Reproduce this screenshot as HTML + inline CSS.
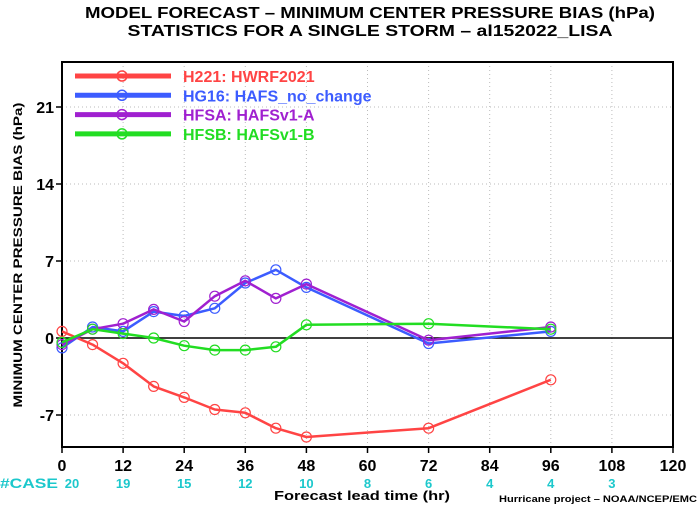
<!DOCTYPE html>
<html><head><meta charset="utf-8"><style>
body{margin:0;background:#fff}
svg text{font-family:"Liberation Sans",sans-serif;font-weight:bold}
</style></head><body>
<svg width="700" height="506" xmlns="http://www.w3.org/2000/svg">
<text x="370" y="18" text-anchor="middle" font-size="16" textLength="570" lengthAdjust="spacingAndGlyphs">MODEL FORECAST – MINIMUM CENTER PRESSURE BIAS (hPa)</text>
<text x="370" y="36" text-anchor="middle" font-size="16" textLength="485" lengthAdjust="spacingAndGlyphs">STATISTICS FOR A SINGLE STORM – al152022_LISA</text>
<g id="grid"></g>
<rect x="62" y="62" width="611" height="385" fill="none" stroke="#000" stroke-width="2"/>
<line x1="62" x2="673" y1="338" y2="338" stroke="#000" stroke-width="1.5"/>
<g id="axes"></g>
<g id="series"></g>
<g id="legend"></g>
<text transform="translate(22,255) rotate(-90)" text-anchor="middle" font-size="12" textLength="305" lengthAdjust="spacingAndGlyphs">MINIMUM CENTER PRESSURE BIAS (hPa)</text>
<text x="0" y="488" font-size="14" fill="#1cc8cc" textLength="58" lengthAdjust="spacingAndGlyphs">#CASE</text>
<text x="362" y="500" text-anchor="middle" font-size="13" textLength="176" lengthAdjust="spacingAndGlyphs">Forecast lead time (hr)</text>
<text x="697" y="502" text-anchor="end" font-size="9" font-weight="normal" textLength="198" lengthAdjust="spacingAndGlyphs">Hurricane project – NOAA/NCEP/EMC</text>
</svg>
<script>
const xTicks=[0,12,24,36,48,60,72,84,96,108,120];
const yTicks=[-7,0,7,14,21];
const caseHours=[0,12,24,36,48,60,72,84,96,108];
const caseCounts=[20,19,15,12,10,8,6,4,4,3];
const seriesNames=["H221: HWRF2021","HG16: HAFS_no_change","HFSA: HAFSv1-A","HFSB: HAFSv1-B"];
const seriesColors=["#ff4444","#3c5cff","#a020d0","#22dd22"];
const leads=[0,6,12,18,24,30,36,42,48,72,96];
const h221=[0.6,-0.6,-2.3,-4.4,-5.4,-6.5,-6.8,-8.2,-9.0,-8.2,-3.8];
const hg16=[-0.9,1.0,0.6,2.4,2.0,2.7,5.0,6.2,4.6,-0.5,0.6];
const hfsa=[-0.6,0.8,1.3,2.6,1.5,3.8,5.2,3.6,4.9,-0.2,1.0];
const hfsb=[-0.4,0.8,0.4,0.0,-0.7,-1.1,-1.1,-0.8,1.2,1.3,0.8];
const allSeries=[h221,hg16,hfsa,hfsb];
const NS="http://www.w3.org/2000/svg";
const X=h=>62+h*(611/120);
const Y=v=>338-v*11;
function mk(tag,attrs,parent){const e=document.createElementNS(NS,tag);for(const k in attrs)e.setAttribute(k,attrs[k]);parent.appendChild(e);return e;}
const grid=document.getElementById('grid'),axes=document.getElementById('axes'),ser=document.getElementById('series'),leg=document.getElementById('legend');
xTicks.forEach((t,i)=>{
  if(i>0&&i<xTicks.length-1){const g=mk('line',{x1:X(t),x2:X(t),y1:62,y2:447,stroke:'#bbb','stroke-dasharray':'1,3'},grid);
  
  }
  const tk=mk('line',{x1:X(t),x2:X(t),y1:447,y2:453,stroke:'#000','stroke-width':1.5},axes);
  
  
  const tx=mk('text',{x:X(t),y:471,'text-anchor':'middle','font-size':16},axes);tx.textContent=t;
  
  
});
yTicks.forEach(t=>{
  if(t!==0){const g=mk('line',{x1:62,x2:673,y1:Y(t),y2:Y(t),stroke:'#bbb','stroke-dasharray':'1,3'},grid);
  
  }
  const tk=mk('line',{x1:56,x2:62,y1:Y(t),y2:Y(t),stroke:'#000','stroke-width':1.5},axes);
  
  
  const tx=mk('text',{x:54,y:Y(t)+6,'text-anchor':'end','font-size':16},axes);tx.textContent=t;
  
  
});
caseHours.forEach((h,i)=>{
  const tx=mk('text',{x:i===0?X(h)+10:X(h),y:488,'text-anchor':'middle','font-size':13,fill:'#1cc8cc'},axes);tx.textContent=caseCounts[i];
  
  
});
allSeries.forEach((d,s)=>{
  const c=seriesColors[s];
  const pl=mk('polyline',{points:d.map((v,i)=>X(leads[i])+','+Y(v)).join(' '),fill:'none',stroke:c,'stroke-width':2.5,'stroke-linejoin':'round'},ser);
  
  
  d.forEach((v,i)=>{
    const ci=mk('circle',{cx:X(leads[i]),cy:Y(v),r:5,fill:'none',stroke:c,'stroke-width':1.2},ser);
    
    
  });
  const ly=76+s*19.3;
  const ll=mk('line',{x1:75,x2:171,y1:ly,y2:ly,stroke:c,'stroke-width':5},leg);
  
  
  const lc=mk('circle',{cx:122,cy:ly,r:5,fill:'none',stroke:c,'stroke-width':1.5},leg);
  
  
  const lt=mk('text',{x:183,y:ly+6,'font-size':16,fill:c},leg);lt.textContent=seriesNames[s];
  
  
});
</script>
</body></html>
